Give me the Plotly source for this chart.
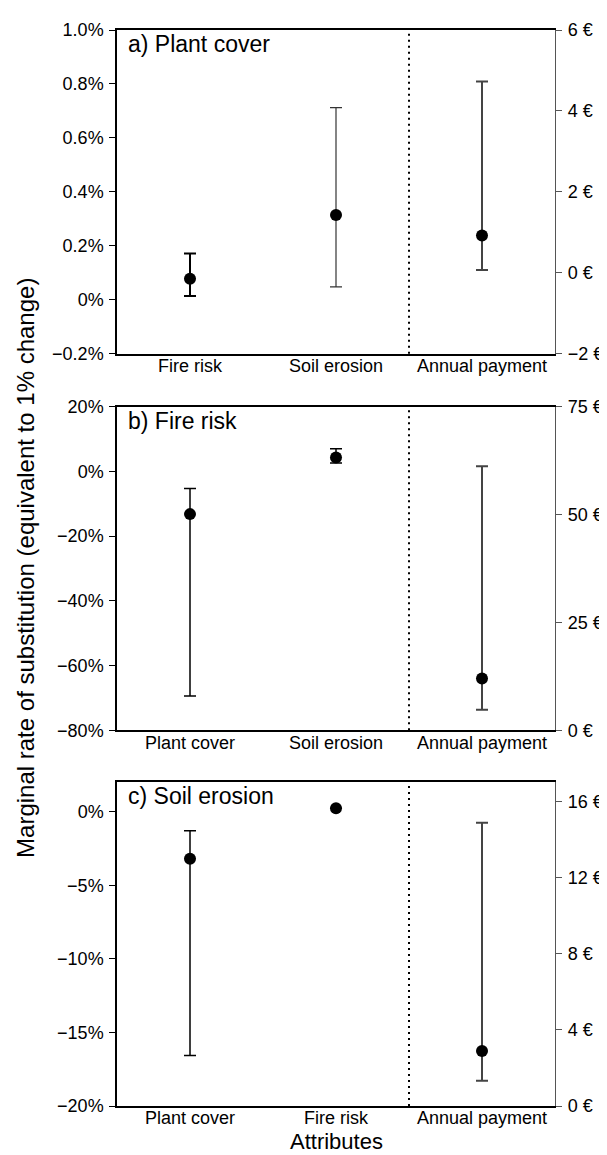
import plotly.graph_objects as go

# ---------------- data ----------------
a_categories = ["Fire risk", "Soil erosion", "Annual payment"]
a_mean = [0.078, 0.314, 0.92]
a_low = [0.014, 0.048, 0.07]
a_high = [0.171, 0.712, 4.73]

b_categories = ["Plant cover", "Soil erosion", "Annual payment"]
b_mean = [-13.2, 4.3, 12.0]
b_low = [-69.4, 2.6, 4.8]
b_high = [-5.3, 7.0, 61.2]

c_categories = ["Plant cover", "Fire risk", "Annual payment"]
c_mean = [-3.2, 0.23, 2.89]
c_low = [-16.56, 0.23, 1.32]
c_high = [-1.29, 0.23, 14.88]

panel_titles = ["a) Plant cover", "b) Fire risk", "c) Soil erosion"]

a_left_ticks = [-0.2, 0, 0.2, 0.4, 0.6, 0.8, 1.0]
a_left_labels = ["\u22120.2%", "0%", "0.2%", "0.4%", "0.6%", "0.8%", "1.0%"]
a_right_ticks = [-2, 0, 2, 4, 6]
a_right_labels = ["\u22122 \u20ac", "0 \u20ac", "2 \u20ac", "4 \u20ac", "6 \u20ac"]

b_left_ticks = [-80, -60, -40, -20, 0, 20]
b_left_labels = ["\u221280%", "\u221260%", "\u221240%", "\u221220%", "0%", "20%"]
b_right_ticks = [0, 25, 50, 75]
b_right_labels = ["0 \u20ac", "25 \u20ac", "50 \u20ac", "75 \u20ac"]

c_left_ticks = [-20, -15, -10, -5, 0]
c_left_labels = ["\u221220%", "\u221215%", "\u221210%", "\u22125%", "0%"]
c_right_ticks = [0, 4, 8, 12, 16]
c_right_labels = ["0 \u20ac", "4 \u20ac", "8 \u20ac", "12 \u20ac", "16 \u20ac"]

# ---------------- styling ----------------
FONT = "Liberation Sans, Arial, Helvetica, sans-serif"
TICK_SIZE = 18
W, H = 607, 1155
ML, MR, MT, MB = 109, 46, 21, 57
plot_h = H - MT - MB

# panel pixel extents (top, bottom)
panel_px = [(21, 345), (398, 722), (774, 1098)]


def dom(top, bottom):
    return [(H - MB - bottom) / plot_h, (H - MB - top) / plot_h]


panels = [
    (a_categories, a_mean, a_low, a_high, a_left_ticks, a_left_labels, [-0.2, 1.0],
     a_right_ticks, a_right_labels, [-2, 6]),
    (b_categories, b_mean, b_low, b_high, b_left_ticks, b_left_labels, [-80, 20],
     b_right_ticks, b_right_labels, [0, 75]),
    (c_categories, c_mean, c_low, c_high, c_left_ticks, c_left_labels, [-20, 2],
     c_right_ticks, c_right_labels, [0, 17]),
]

# per-point error bar styles: (color, thickness) for the three categories of each panel
err_styles = [
    [("#000000", 2.0), ("#333333", 1.2), ("#444444", 2.0)],
    [("#000000", 1.5), ("#000000", 1.5), ("#444444", 2.0)],
    [("#000000", 1.5), ("#000000", 1.5), ("#444444", 2.0)],
]

fig = go.Figure()
layout = dict(
    width=W, height=H,
    margin=dict(l=ML, r=MR, t=MT, b=MB),
    paper_bgcolor="white", plot_bgcolor="white",
    showlegend=False,
    font=dict(family=FONT, size=TICK_SIZE, color="black"),
)
shapes = []
annotations = []

for i, (cats, mean, low, high, lt, ll, lr, rt, rl, rr) in enumerate(panels):
    n = i + 1
    xa = "x" if n == 1 else f"x{n}"
    yl_id = 2 * n - 1
    yr_id = 2 * n
    yl = "y" if yl_id == 1 else f"y{yl_id}"
    yr = f"y{yr_id}"
    xs = list(range(len(cats)))
    for j in xs:
        on_right = (j == len(cats) - 1)
        col, th = err_styles[i][j]
        fig.add_trace(go.Scatter(
            x=[xs[j]], y=[mean[j]],
            xaxis=xa, yaxis=yr if on_right else yl,
            mode="markers",
            marker=dict(size=12, color="black"),
            error_y=dict(type="data", symmetric=False,
                         array=[high[j] - mean[j]],
                         arrayminus=[mean[j] - low[j]],
                         color=col, thickness=th, width=6),
            hoverinfo="skip",
        ))
    d = dom(*panel_px[i])
    xkey = "xaxis" if n == 1 else f"xaxis{n}"
    layout[xkey] = dict(
        domain=[0, 1], anchor=yl, range=[-0.5, 2.5],
        tickvals=xs, ticktext=cats, ticks="",
        ticklabelstandoff=-5,
        showline=True, linecolor="black", linewidth=1.5, mirror=True,
        showgrid=False, zeroline=False,
        tickfont=dict(family=FONT, size=TICK_SIZE, color="black"),
    )
    ylkey = "yaxis" if yl_id == 1 else f"yaxis{yl_id}"
    layout[ylkey] = dict(
        domain=d, anchor=xa, range=lr,
        tickvals=lt, ticktext=ll, ticks="outside", ticklen=6, tickcolor="black",
        ticklabelstandoff=2,
        showline=True, linecolor="black", linewidth=1.5,
        showgrid=False, zeroline=False,
        tickfont=dict(family=FONT, size=TICK_SIZE, color="black"),
    )
    layout[f"yaxis{yr_id}"] = dict(
        overlaying=yl, side="right", anchor=xa, range=rr,
        tickvals=rt, ticktext=rl, ticks="outside", ticklen=6, tickcolor="#555555",
        ticklabelstandoff=2,
        showline=True, linecolor="#555555", linewidth=1.2,
        showgrid=False, zeroline=False,
        tickfont=dict(family=FONT, size=TICK_SIZE, color="black"),
    )
    shapes.append(dict(
        type="line", xref=xa, yref=f"{yl} domain",
        x0=1.5, x1=1.5, y0=0, y1=1,
        line=dict(color="black", width=2, dash="2px,4px"),
    ))
    annotations.append(dict(
        text=panel_titles[i], xref=f"{xa} domain", yref=f"{yl} domain",
        x=(118 - ML) / (W - ML - MR), y=1 - 14 / 324,
        xanchor="left", yanchor="middle", showarrow=False,
        font=dict(family=FONT, size=23, color="black"),
    ))

annotations.append(dict(
    text="Marginal rate of substitution (equivalent to 1% change)",
    xref="paper", yref="paper", x=(14 - ML) / (W - ML - MR), y=0.5,
    xanchor="center", yanchor="middle", textangle=-90, showarrow=False,
    font=dict(family=FONT, size=24, color="black"),
))
annotations.append(dict(
    text="Attributes",
    xref="paper", yref="paper", x=0.5, y=-(1134 - (H - MB)) / plot_h,
    xanchor="center", yanchor="middle", showarrow=False,
    font=dict(family=FONT, size=22, color="black"),
))

layout["shapes"] = shapes
layout["annotations"] = annotations
fig.update_layout(**layout)
fig.write_html("out.html")
